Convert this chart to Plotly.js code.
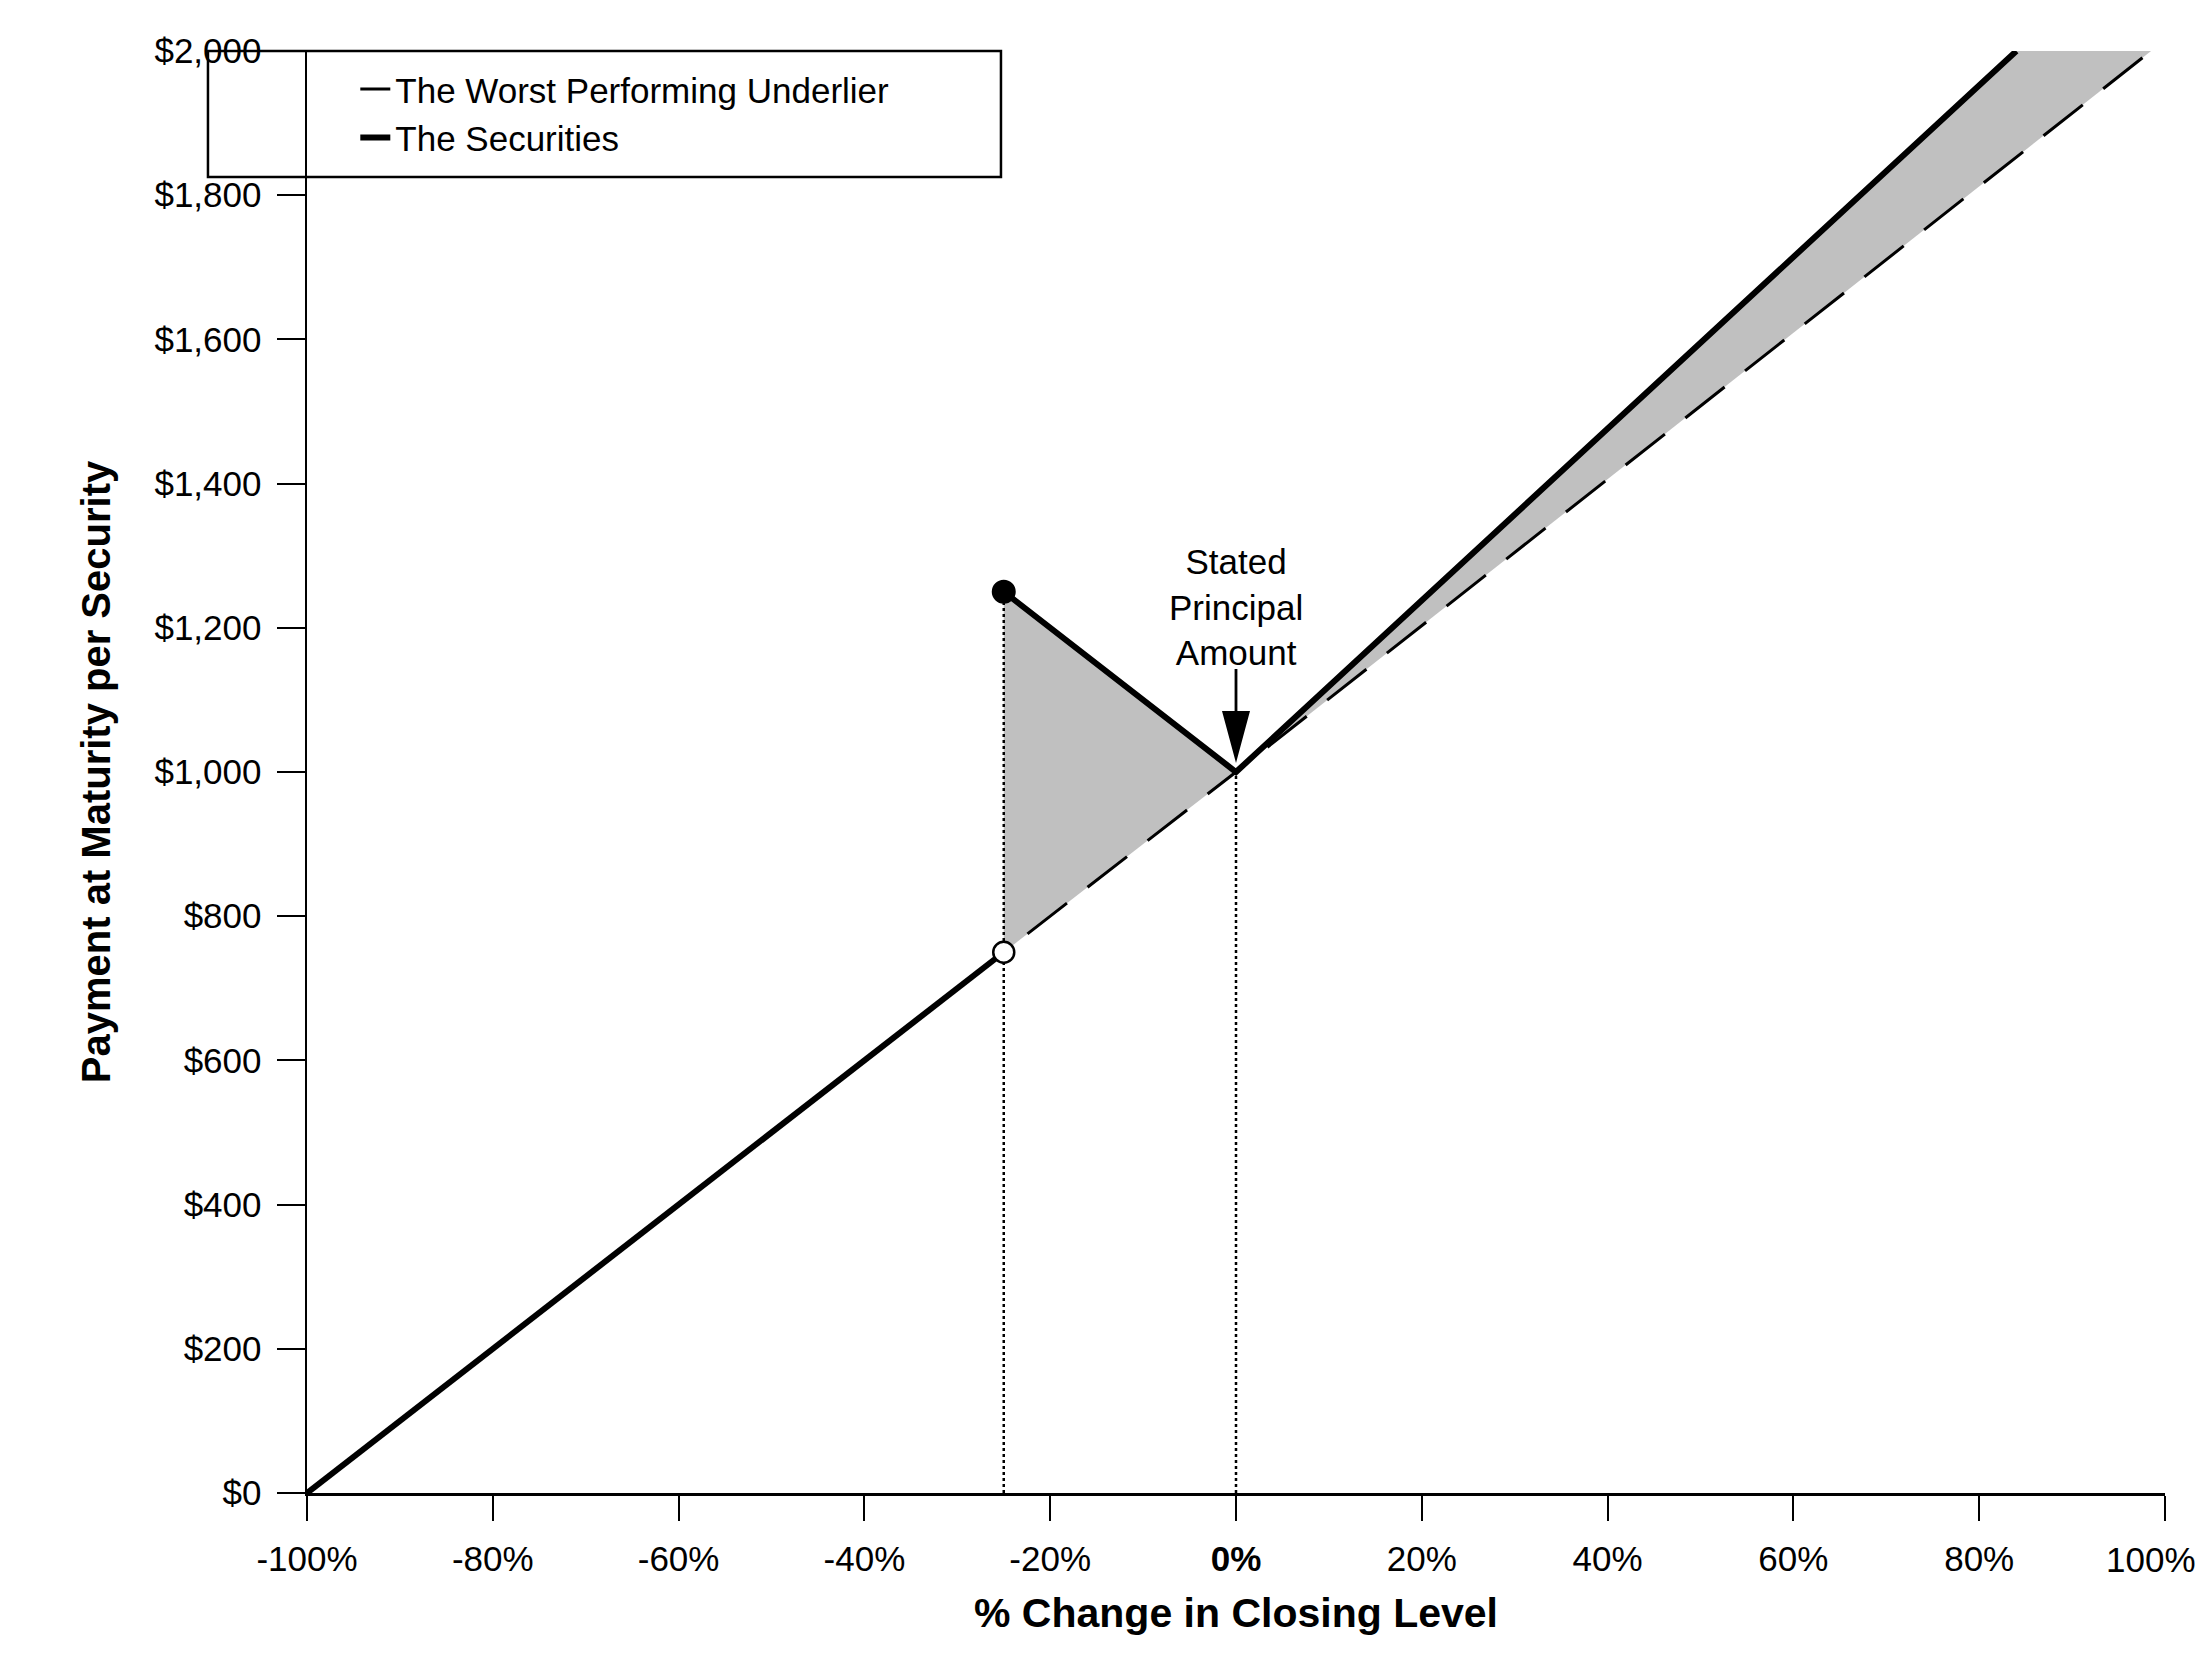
<!DOCTYPE html>
<html>
<head>
<meta charset="utf-8">
<script src="https://cdn.plot.ly/plotly-3.0.1.min.js"></script>
<style>
  html, body { margin: 0; padding: 0; background: #fff; }
  #chart { width: 2204px; height: 1664px; }
</style>
</head>
<body>
<div id="chart"></div>
<script>
// payoff values (x = % change, y = $ per security)
const underlierPct = [-100, -25, 0, 98.5];
const underlierPay = [0, 750, 1000, 2000];

const securitiesPct = [-100, -25, null, -25, 0, 84];
const securitiesPay = [0, 750, null, 1250, 1000, 2000];

// shaded gain areas
const downsidePct = [-25, 0, -25];
const downsidePay = [1250, 1000, 750];
const upsidePct = [0, 84, 98.5];
const upsidePay = [1000, 2000, 2000];

// dotted drop lines and end markers
const dropPct = [-25, 0];
const dropPay = [1250, 1000];
const knockPct = [-25];
const filledPay = [1250];
const openPay = [750];

// stated principal point the arrow points at
const principalPct = 0;
const principalPay = 1000;

const xTickVals = [-100, -80, -60, -40, -20, 0, 20, 40, 60, 80, 100];
const xTickText = ['-100%', '-80%', '-60%', '-40%', '-20%', '<b>0%</b>', '20%', '40%', '60%', '80%', '100%'];
const yTickVals = [0, 200, 400, 600, 800, 1000, 1200, 1400, 1600, 1800, 2000];
const yTickText = ['$0', '$200', '$400', '$600', '$800', '$1,000', '$1,200', '$1,400', '$1,600', '$1,800', '$2,000'];

const font = '"Liberation Sans", Arial, sans-serif';
const gray = '#c0c0c0';

// the last x label sits flush with the right edge, so it is drawn as an annotation
const lastIdx = xTickVals.length - 1;
const axisTickText = xTickText.map((t, i) => i === lastIdx ? '' : t);

// drop lines: one trace, segments split by null
let dropX = [], dropY = [];
dropPct.forEach((p, i) => { dropX.push(p, p, null); dropY.push(0, dropPay[i], null); });

const traces = [
  { x: downsidePct, y: downsidePay, mode: 'lines', fill: 'toself', fillcolor: gray,
    line: { width: 0, color: gray }, showlegend: false, hoverinfo: 'skip' },
  { x: upsidePct, y: upsidePay, mode: 'lines', fill: 'toself', fillcolor: gray,
    line: { width: 0, color: gray }, showlegend: false, hoverinfo: 'skip' },
  { x: dropX, y: dropY, mode: 'lines', line: { color: '#000', width: 2.5, dash: 'dot' },
    showlegend: false, hoverinfo: 'skip' },
  { x: underlierPct, y: underlierPay, mode: 'lines', name: 'The Worst Performing Underlier',
    line: { color: '#000', width: 3, dash: '50px,26px' } },
  { x: securitiesPct, y: securitiesPay, mode: 'lines', name: 'The Securities',
    line: { color: '#000', width: 6 }, connectgaps: false },
  { x: knockPct, y: filledPay, mode: 'markers', showlegend: false,
    marker: { size: 22, color: '#000', line: { color: '#000', width: 2 } } },
  { x: knockPct, y: openPay, mode: 'markers', showlegend: false,
    marker: { size: 21, color: '#fff', line: { color: '#000', width: 2.5 } } }
];

const layout = {
  width: 2204,
  height: 1664,
  margin: { l: 307, r: 39, t: 51, b: 171 },
  paper_bgcolor: '#fff',
  plot_bgcolor: '#fff',
  font: { family: font, size: 35, color: '#000' },
  showlegend: true,
  legend: {
    x: 0.026, y: 0.994, xanchor: 'left', yanchor: 'top',
    bgcolor: 'rgba(0,0,0,0)', borderwidth: 0,
    font: { family: font, size: 35, color: '#000' },
    tracegroupgap: 0
  },
  xaxis: {
    range: [-100, 100],
    tickvals: xTickVals, ticktext: axisTickText,
    ticks: 'outside', ticklen: 25, tickwidth: 2, tickcolor: '#000',
    ticklabelstandoff: 8,
    showline: true, linecolor: '#000', linewidth: 3,
    showgrid: false, zeroline: false,
    tickfont: { family: font, size: 35 },
    title: { text: '<b>% Change in Closing Level</b>', font: { family: font, size: 41 }, standoff: 22 }
  },
  yaxis: {
    range: [0, 2000],
    tickvals: yTickVals, ticktext: yTickText,
    ticks: 'outside', ticklen: 28, tickwidth: 2, tickcolor: '#000',
    ticklabelstandoff: 8,
    showline: true, linecolor: '#000', linewidth: 2.5,
    showgrid: false, zeroline: false,
    tickfont: { family: font, size: 35 },
    title: { text: '<b>Payment at Maturity per Security</b>', font: { family: font, size: 40 }, standoff: 32 }
  },
  shapes: [
    // legend frame
    { type: 'rect', xref: 'paper', yref: 'paper', x0: -0.0533, x1: 0.3735, y0: 0.9126, y1: 1.0,
      line: { color: '#000', width: 2.5 }, fillcolor: 'rgba(0,0,0,0)', layer: 'above' },
    // arrow to the stated principal point, sized in pixels
    { type: 'path', xref: 'x', yref: 'y', xsizemode: 'pixel', ysizemode: 'pixel',
      xanchor: principalPct, yanchor: principalPay,
      path: 'M0,9 L-14,61 L-1.4,61 L-1.4,103 L1.4,103 L1.4,61 L14,61 Z',
      fillcolor: '#000', line: { width: 0 }, layer: 'above' }
  ],
  annotations: [
    { x: principalPct, y: principalPay, xref: 'x', yref: 'y',
      text: 'Stated<br>Principal<br>Amount',
      font: { family: font, size: 35, color: '#000' },
      showarrow: false, xanchor: 'center', yanchor: 'middle', yshift: 165 },
    { x: xTickVals[lastIdx], y: 0, xref: 'x', yref: 'y',
      text: xTickText[lastIdx],
      font: { family: font, size: 35, color: '#000' },
      showarrow: false, xanchor: 'right', yanchor: 'middle', xshift: 33, yshift: -66 }
  ]
};

Plotly.newPlot('chart', traces, layout, { displayModeBar: false, staticPlot: true });
</script>
</body>
</html>
